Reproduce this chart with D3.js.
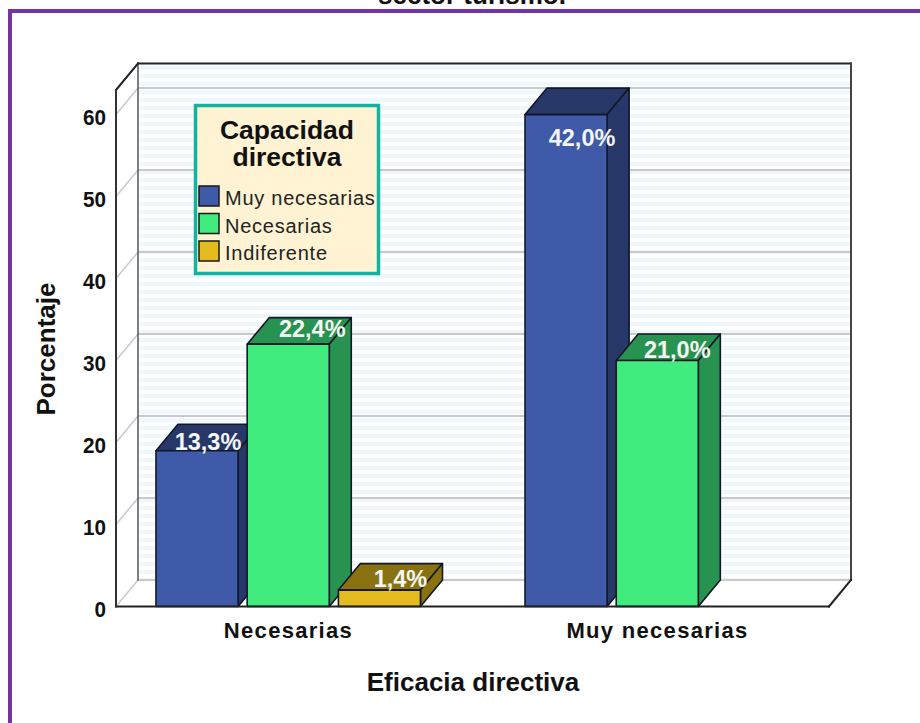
<!DOCTYPE html>
<html><head><meta charset="utf-8">
<script src="https://cdnjs.cloudflare.com/ajax/libs/d3/7.8.5/d3.min.js"></script>
<style>
html,body{margin:0;padding:0;background:#fff;overflow:hidden}
svg{display:block}
text{font-family:"Liberation Sans",Arial,sans-serif;fill:#111}
</style></head><body>
<script>
const categories = ["Necesarias", "Muy necesarias"];
const seriesNames = ["Muy necesarias", "Necesarias", "Indiferente"];
const muyNecesariasValues = [19, 60];
const necesariasValues = [32, 30];
const indiferenteValues = [2, null];
const muyNecesariasLabels = ["13,3%", "42,0%"];
const necesariasLabels = ["22,4%", "21,0%"];
const indiferenteLabels = ["1,4%", null];
const yTicks = [0, 10, 20, 30, 40, 50, 60];
const titleFragment = "sector turismo.";
const legendTitle = ["Capacidad", "directiva"];
const yAxisTitle = "Porcentaje";
const xAxisTitle = "Eficacia directiva";

const frontColors = ["#3e5aa8", "#41ec7f", "#e3bb1f"];
const sideColors = ["#273768", "#289350", "#8a7210"];
const W = 920, H = 723;
const left = 116, right = 829, floorY = 606.5, topY = 90, dx = 22, dy = -26.5;

const svg = d3.select("body").append("svg").attr("width", W).attr("height", H);
const defs = svg.append("defs");
const pat = defs.append("pattern").attr("id", "stripes").attr("patternUnits", "userSpaceOnUse")
  .attr("x", 0).attr("y", 66).attr("width", 10).attr("height", 8);
pat.append("rect").attr("width", 10).attr("height", 8).attr("fill", "#ffffff");
pat.append("rect").attr("width", 10).attr("height", 4).attr("fill", "#eff7fe");

// page frame and clipped title
svg.append("text").attr("x", 472).attr("y", 4).attr("text-anchor", "middle")
  .attr("font-size", 26).attr("font-weight", 700).text(titleFragment);
svg.append("rect").attr("x", 8).attr("y", 9).attr("width", W - 8).attr("height", 4).attr("fill", "#7334a4");
svg.append("rect").attr("x", 8).attr("y", 9).attr("width", 4).attr("height", H - 9).attr("fill", "#7334a4");

const y = d3.scaleLinear().domain([0, 63]).range([floorY, topY]);
const x0 = d3.scalePoint().domain(categories).range([left, right]).padding(0.466);
const x1 = d3.scaleBand().domain(seriesNames).range([-132, 132.5]).paddingInner(0.1);

// back wall
svg.append("rect").attr("x", left + dx).attr("y", y.range()[1] + dy)
  .attr("width", right - left).attr("height", floorY - topY)
  .attr("fill", "url(#stripes)");
// floor
const floor = [[left, floorY], [right, floorY], [right + dx, floorY + dy], [left + dx, floorY + dy]];
svg.append("path").attr("d", d3.line()(floor) + "Z").attr("fill", "#fff");

// gridlines on back wall and side wall
const grid = svg.append("g");
grid.selectAll("line.back").data(yTicks).join("line").attr("class", "back")
  .attr("x1", left + dx).attr("x2", right + dx)
  .attr("y1", d => y(d) + dy).attr("y2", d => y(d) + dy)
  .attr("stroke", "#c9c9c9").attr("stroke-width", 2);
grid.selectAll("line.side").data(yTicks).join("line").attr("class", "side")
  .attr("x1", left).attr("x2", left + dx)
  .attr("y1", d => y(d)).attr("y2", d => y(d) + dy)
  .attr("stroke", "#c9c9c9").attr("stroke-width", 1.5);

// box edges
const edge = (a, b, c, w) => svg.append("line").attr("x1", a[0]).attr("y1", a[1]).attr("x2", b[0]).attr("y2", b[1]).attr("stroke", c).attr("stroke-width", w).attr("stroke-linecap", "square");
edge([left + dx, topY + dy], [right + dx, topY + dy], "#222", 2);
edge([right + dx, topY + dy], [right + dx, floorY + dy], "#444", 2);
edge([left + dx, topY + dy], [left + dx, floorY + dy], "#555", 1.5);
edge([left, topY], [left + dx, topY + dy], "#222", 2);
edge([right, floorY], [right + dx, floorY + dy], "#222", 2);

// bars
const bars = [];
const seriesValues = [muyNecesariasValues, necesariasValues, indiferenteValues];
const seriesLabels = [muyNecesariasLabels, necesariasLabels, indiferenteLabels];
categories.forEach((c, ci) => seriesNames.forEach((s, si) => {
  if (seriesValues[si][ci] != null) bars.push({ c, s, si, v: seriesValues[si][ci], label: seriesLabels[si][ci] });
}));
const barG = svg.append("g").attr("stroke", "#101828").attr("stroke-width", 1.6).attr("stroke-linejoin", "round");
bars.forEach(b => {
  const xa = x0(b.c) + x1(b.s), xb = xa + x1.bandwidth(), yt = y(b.v), yb = y(0);
  const g = barG.append("g");
  g.append("path").attr("fill", sideColors[b.si])
    .attr("d", d3.line()([[xa, yt], [xa + dx, yt + dy], [xb + dx, yt + dy], [xb, yt]]) + "Z");
  g.append("path").attr("fill", sideColors[b.si])
    .attr("d", d3.line()([[xb, yt], [xb + dx, yt + dy], [xb + dx, yb + dy], [xb, yb]]) + "Z");
  g.append("rect").attr("x", xa).attr("y", yt).attr("width", xb - xa).attr("height", yb - yt).attr("fill", frontColors[b.si]);
});

// front floor edge and left axis
edge([left, floorY], [right, floorY], "#222", 2);
edge([left, topY], [left, floorY], "#333", 2);

// y axis
const axis = svg.append("g").attr("transform", `translate(${left - 10},0)`)
  .call(d3.axisLeft(y).tickValues(yTicks).tickSize(0).tickPadding(0));
axis.select(".domain").remove();
axis.selectAll("text").attr("font-size", 22).attr("font-weight", 700)
  .attr("dy", "0.46em")
  .attr("textLength", d => String(d).length * 11.5).attr("lengthAdjust", "spacingAndGlyphs");

// x axis
const xAxis = svg.append("g").attr("transform", `translate(0,${floorY})`)
  .call(d3.axisBottom(x0).tickSize(0).tickPadding(0));
xAxis.select(".domain").remove();
xAxis.selectAll("text").attr("y", 31).attr("dy", 0).attr("font-size", 22).attr("font-weight", 700)
  .attr("letter-spacing", "1.3px");

// axis titles
svg.append("text").attr("x", 473).attr("y", 691).attr("text-anchor", "middle")
  .attr("font-size", 26).attr("font-weight", 700).text(xAxisTitle);
svg.append("text").attr("transform", "translate(55,349) rotate(-90)").attr("text-anchor", "middle")
  .attr("font-size", 26).attr("font-weight", 700).text(yAxisTitle);

// value labels
const labelShift = { "13,3%": [11, -1], "22,4%": [24, -7], "1,4%": [21, -3], "42,0%": [16, 31], "21,0%": [20, -3] };
svg.append("g").selectAll("text").data(bars).join("text")
  .attr("x", b => x0(b.c) + x1(b.s) + x1.bandwidth() / 2 + labelShift[b.label][0])
  .attr("y", b => y(b.v) + labelShift[b.label][1])
  .attr("text-anchor", "middle").attr("font-size", 23.5).attr("font-weight", 700)
  .style("fill", "#f4f6f4").text(b => b.label);

// legend
const legend = svg.append("g");
legend.append("rect").attr("x", 195.5).attr("y", 105.5).attr("width", 183).attr("height", 168)
  .attr("fill", "#fff3d3").attr("stroke", "#12b3a0").attr("stroke-width", 3.5);
legend.selectAll("text.t").data(legendTitle).join("text").attr("class", "t")
  .attr("x", 287).attr("y", (d, i) => 139 + i * 26.5).attr("text-anchor", "middle")
  .attr("font-size", 26.5).attr("font-weight", 700).text(d => d);
const item = legend.selectAll("g.item").data(seriesNames).join("g").attr("class", "item")
  .attr("transform", (d, i) => `translate(199,${186 + i * 27.5})`);
item.append("rect").attr("width", 20).attr("height", 20).attr("fill", (d, i) => frontColors[i])
  .attr("stroke", "#1a1a1a").attr("stroke-width", 1.5);
item.append("text").attr("x", 26).attr("y", 19).attr("font-size", 20).attr("letter-spacing", "0.75px")
  .style("fill", "#222").text(d => d);
</script>
</body></html>
